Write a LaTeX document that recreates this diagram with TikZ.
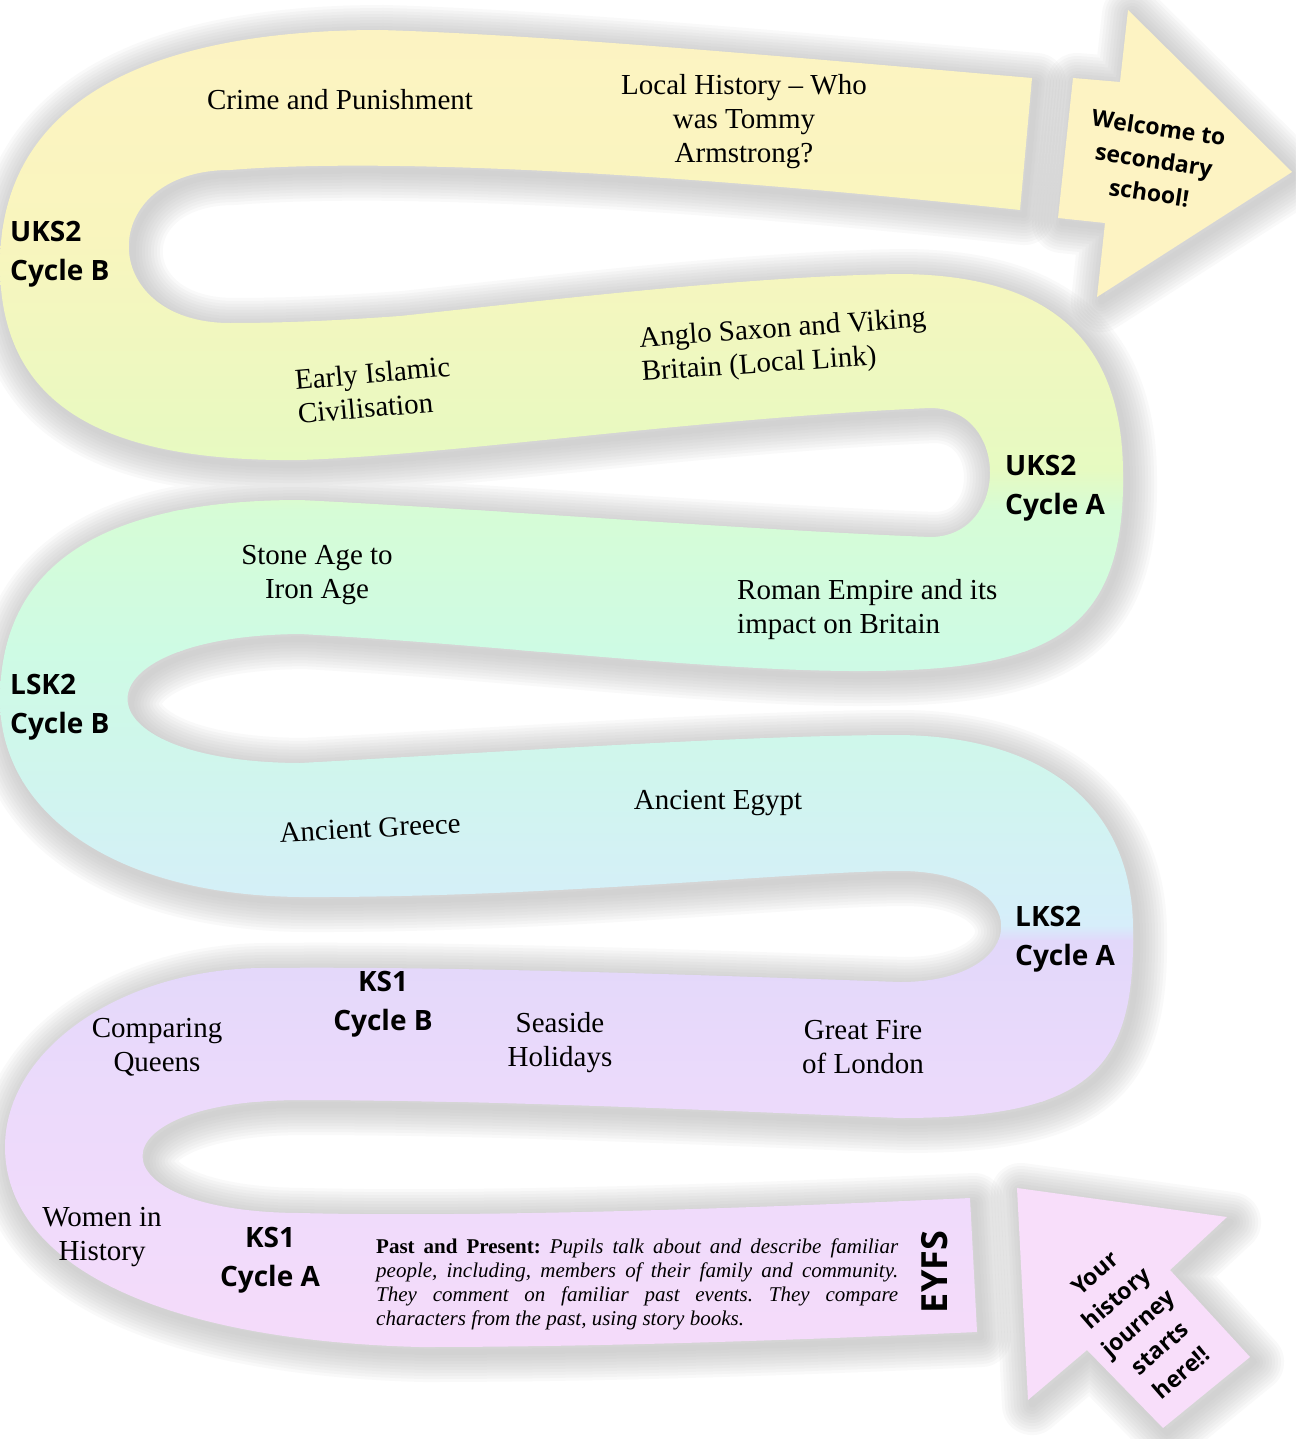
\documentclass[tikz,border=0pt]{standalone}
\usepackage{fontspec}
\setmainfont{Liberation Serif}
\newfontfamily\lblfont{Open Sans}
\frenchspacing
\definecolor{c0}{RGB}{253,243,195}
\definecolor{c1}{RGB}{249,245,190}
\definecolor{c2}{RGB}{230,250,193}
\definecolor{c3}{RGB}{214,252,214}
\definecolor{c4}{RGB}{206,251,228}
\definecolor{c5}{RGB}{208,245,238}
\definecolor{c6}{RGB}{214,238,250}
\definecolor{c7}{RGB}{226,216,250}
\definecolor{c8}{RGB}{236,218,251}
\definecolor{c9}{RGB}{248,220,250}
\definecolor{arrowpink}{RGB}{248,222,250}
\tikzset{
  serif/.style={font=\fontsize{29}{34}\selectfont, align=center, inner sep=0pt},
  lbl/.style={font=\lblfont\bfseries\fontsize{28}{39}\selectfont, align=left, inner sep=0pt},
  arrowtxt/.style={font=\lblfont\bfseries\fontsize{23}{33}\selectfont, align=center, inner sep=0pt},
  para/.style={font=\fontsize{21}{24}\selectfont, text width=522pt, align=justify, inner sep=0pt},
  glow/.style={line join=round, draw=black!30, draw opacity=0.075}
}
\def\bandpath{(1032,78) .. controls (800,58) and (550,35) .. (380,30)
 .. controls (150,30) and (0,100) .. (0,265)
 .. controls (0,410) and (110,462) .. (300,460)
 .. controls (450,455) and (700,418) .. (930,408)
 .. controls (1010,408) and (1010,537) .. (930,537)
 .. controls (750,530) and (500,510) .. (300,500)
 .. controls (80,500) and (0,580) .. (0,700)
 .. controls (0,810) and (110,895) .. (300,897)
 .. controls (550,898) and (800,871) .. (900,871)
 .. controls (1035,871) and (1035,982) .. (900,982)
 .. controls (700,975) and (450,966) .. (260,968)
 .. controls (120,970) and (5,1050) .. (5,1147)
 .. controls (5,1260) and (150,1340) .. (420,1347)
 .. controls (600,1347) and (800,1340) .. (977,1332)
 -- (970,1198)
 .. controls (800,1206) and (500,1218) .. (300,1213)
 .. controls (90,1212) and (90,1100) .. (300,1100)
 .. controls (500,1100) and (750,1112) .. (900,1118)
 .. controls (1090,1118) and (1135,1070) .. (1133,930)
 .. controls (1133,810) and (1050,737) .. (900,735)
 .. controls (750,735) and (500,752) .. (300,763)
 .. controls (70,762) and (70,636) .. (300,634)
 .. controls (500,645) and (700,670) .. (850,671)
 .. controls (1040,672) and (1125,640) .. (1123,475)
 .. controls (1123,340) and (1050,275) .. (900,274)
 .. controls (750,276) and (550,300) .. (400,316)
 .. controls (330,321) and (280,323) .. (230,323)
 .. controls (95,323) and (95,170) .. (230,170)
 .. controls (350,160) and (600,165) .. (1020,210)
 -- cycle}
\def\arrowA{(1073,78) -- (1120,82) -- (1128,10) -- (1292,172) -- (1097,297) -- (1105,223) -- (1058,218) -- cycle}
\def\arrowB{(1017,1188) -- (1227,1217) -- (1170,1270) -- (1250,1357) -- (1163,1428) -- (1087,1350) -- (1028,1400) -- cycle}
\begin{document}
\begin{tikzpicture}[x=1pt,y=-1pt]
\useasboundingbox (0,0) rectangle (1295,1439);
\fill[white] (0,0) rectangle (1295,1439);
% glow / shadow
\begin{scope}[shift={(4,5)}]
\foreach \w in {6,12,...,60}{
  \draw[glow, line width=\w pt] \bandpath;
  \draw[glow, line width=\w pt] \arrowA;
  \draw[glow, line width=\w pt] \arrowB;
}
\end{scope}
% band fill
\begin{scope}
\clip \bandpath;
\shade[top color=c0, bottom color=c1] (0,0) rectangle (1295,231);
\shade[top color=c1, bottom color=c2] (0,230) rectangle (1295,471);
\shade[top color=c2, bottom color=c3] (0,470) rectangle (1295,511);
\shade[top color=c3, bottom color=c4] (0,510) rectangle (1295,651);
\shade[top color=c4, bottom color=c5] (0,650) rectangle (1295,781);
\shade[top color=c5, bottom color=c6] (0,780) rectangle (1295,926);
\shade[top color=c6, bottom color=c7] (0,925) rectangle (1295,941);
\shade[top color=c7, bottom color=c8] (0,940) rectangle (1295,1101);
\shade[top color=c8, bottom color=c9] (0,1100) rectangle (1295,1439);
\end{scope}
\fill[c0] \arrowA;
\fill[arrowpink] \arrowB;
% texts
\node[serif] (crime) at (340,100) {Crime and Punishment};
\node[serif] (local) at (744,122) {Local History – Who\\was Tommy\\Armstrong?};
\node[lbl, anchor=west] (uks2b) at (10,254) {UKS2\\Cycle B};
\node[arrowtxt, rotate=-8.5] (welcome) at (1154,160) {Welcome to\\secondary\\school!};
\node[serif, align=left, rotate=5] (islam) at (374,390) {Early Islamic\\Civilisation};
\node[serif, align=left, rotate=4] (anglo) at (784,347) {Anglo Saxon and Viking\\Britain (Local Link)};
\node[lbl, anchor=west] (uks2a) at (1005,488) {UKS2\\Cycle A};
\node[serif] (stone) at (317,575) {Stone Age to\\Iron Age};
\node[serif, align=left, anchor=west] (roman) at (737,610) {Roman Empire and its\\impact on Britain};
\node[lbl, anchor=west] (lsk2b) at (10,707) {LSK2\\Cycle B};
\node[serif, rotate=3] (greece) at (370,828) {Ancient Greece};
\node[serif] (egypt) at (718,803) {Ancient Egypt};
\node[lbl, anchor=west] (lks2a) at (1015,939) {LKS2\\Cycle A};
\node[lbl, align=center] (ks1b) at (383,1004) {KS1\\Cycle B};
\node[serif] (queens) at (157,1047) {Comparing\\Queens};
\node[serif] (seaside) at (560,1043) {Seaside\\Holidays};
\node[serif] (fire) at (863,1047) {Great Fire\\of London};
\node[serif] (women) at (102,1237) {Women in\\History};
\node[lbl, align=center] (ks1a) at (270,1260) {KS1\\Cycle A};
\node[para, anchor=west] (past) at (376,1284) {{\bfseries Past and Present:} \textit{Pupils talk about and describe familiar\linebreak people, including, members of their family and community.\linebreak They comment on familiar past events. They compare\linebreak characters from the past, using story books.}};
\node[lbl, font=\lblfont\bfseries\fontsize{36}{40}\selectfont, rotate=90] (eyfs) at (935,1272) {EYFS};
\node[arrowtxt, rotate=41] (journey) at (1138,1323) {Your\\history\\journey\\starts\\here!!};
\end{tikzpicture}
\end{document}
